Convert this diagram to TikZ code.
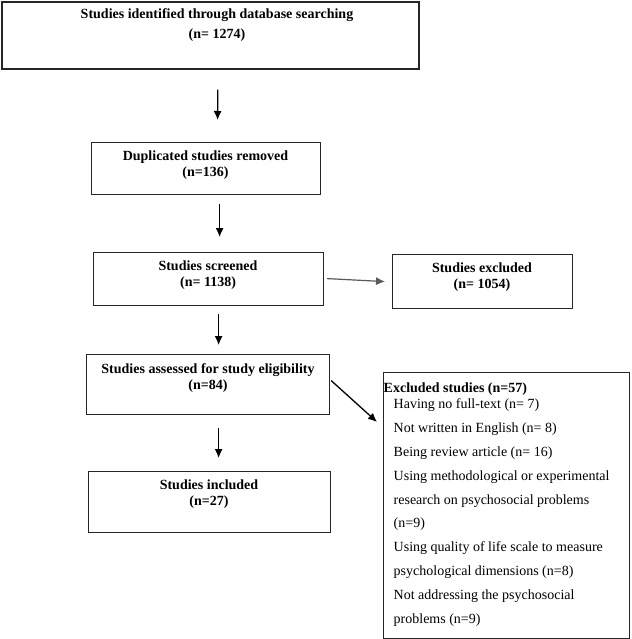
\documentclass[tikz,border=0pt]{standalone}
\usepackage{fontspec}
\setmainfont{Liberation Serif}
\usetikzlibrary{arrows.meta}
\begin{document}
\begin{tikzpicture}[x=1pt,y=-1pt,
  box/.style={draw=black!85,line width=1.2pt,inner sep=0pt,anchor=north west},
  lbl/.style={font=\fontsize{14}{16}\selectfont\bfseries,align=center,inner sep=0pt},
  arr/.style={line width=1.3pt,-{Latex[length=9pt,width=8pt]}},
  garr/.style={line width=1.2pt,draw=black!65,-{Latex[length=9pt,width=8pt]},color=black!65}]
\useasboundingbox (0,0) rectangle (631,639);
% boxes
\node[box,line width=1.6pt,minimum width=417pt,minimum height=67pt] (b1) at (1,1) {};
\node[box,minimum width=229pt,minimum height=52pt] (b2) at (91,142) {};
\node[box,minimum width=230pt,minimum height=53pt] (b3) at (93,252) {};
\node[box,minimum width=180pt,minimum height=54pt] (be) at (392,254) {};
\node[box,minimum width=243pt,minimum height=60pt] (b4) at (86,354) {};
\node[box,minimum width=242pt,minimum height=61pt] (b5) at (88,471) {};
\node[box,minimum width=246pt,minimum height=266pt] (bx) at (383,372) {};
% labels
\node[lbl,font=\fontsize{14}{20}\selectfont\bfseries] (t1) at (217,25) {Studies identified through database searching\\(n= 1274)};
\node[lbl] (t2) at (205.5,165) {Duplicated studies removed\\(n=136)};
\node[lbl] (t3) at (208,275.5) {Studies screened\\(n= 1138)};
\node[lbl] (te) at (482,277.5) {Studies excluded\\(n= 1054)};
\node[lbl] (t4) at (208,378) {Studies assessed for study eligibility\\(n=84)};
\node[lbl] (t5) at (209,494) {Studies included\\(n=27)};
\node[inner sep=0pt,anchor=north west,align=left,font=\fontsize{14}{23.9}\selectfont] (tx) at (383.5,382.5)
 {\textbf{Excluded studies (n=57)}\\[-7.9pt]
  \hspace*{10pt}Having no full-text (n= 7)\\
  \hspace*{10pt}Not written in English (n= 8)\\
  \hspace*{10pt}Being review article (n= 16)\\
  \hspace*{10pt}Using methodological or experimental\\
  \hspace*{10pt}research on psychosocial problems\\
  \hspace*{10pt}(n=9)\\
  \hspace*{10pt}Using quality of life scale to measure\\
  \hspace*{10pt}psychological dimensions (n=8)\\
  \hspace*{10pt}Not addressing the psychosocial\\
  \hspace*{10pt}problems (n=9)};
% arrows
\draw[arr] ([xshift=7.5pt,yshift=-20pt]b1.south) -- ([xshift=11.5pt,yshift=22pt]b2.north);
\draw[arr] ([xshift=13.5pt,yshift=-9pt]b2.south) -- ([xshift=11pt,yshift=15pt]b3.north);
\draw[garr] ([xshift=3pt,yshift=0.5pt]b3.east) -- ([xshift=-7pt]be.west);
\draw[arr] ([xshift=10pt,yshift=-8pt]b3.south) -- ([xshift=10.5pt,yshift=9pt]b4.north);
\draw[arr] ([xshift=1pt,yshift=4pt]b4.east) -- ([xshift=-6pt,yshift=-50pt]bx.north west);
\draw[arr] ([xshift=10.5pt,yshift=-13pt]b4.south) -- ([xshift=9pt,yshift=13pt]b5.north);
\end{tikzpicture}
\end{document}
